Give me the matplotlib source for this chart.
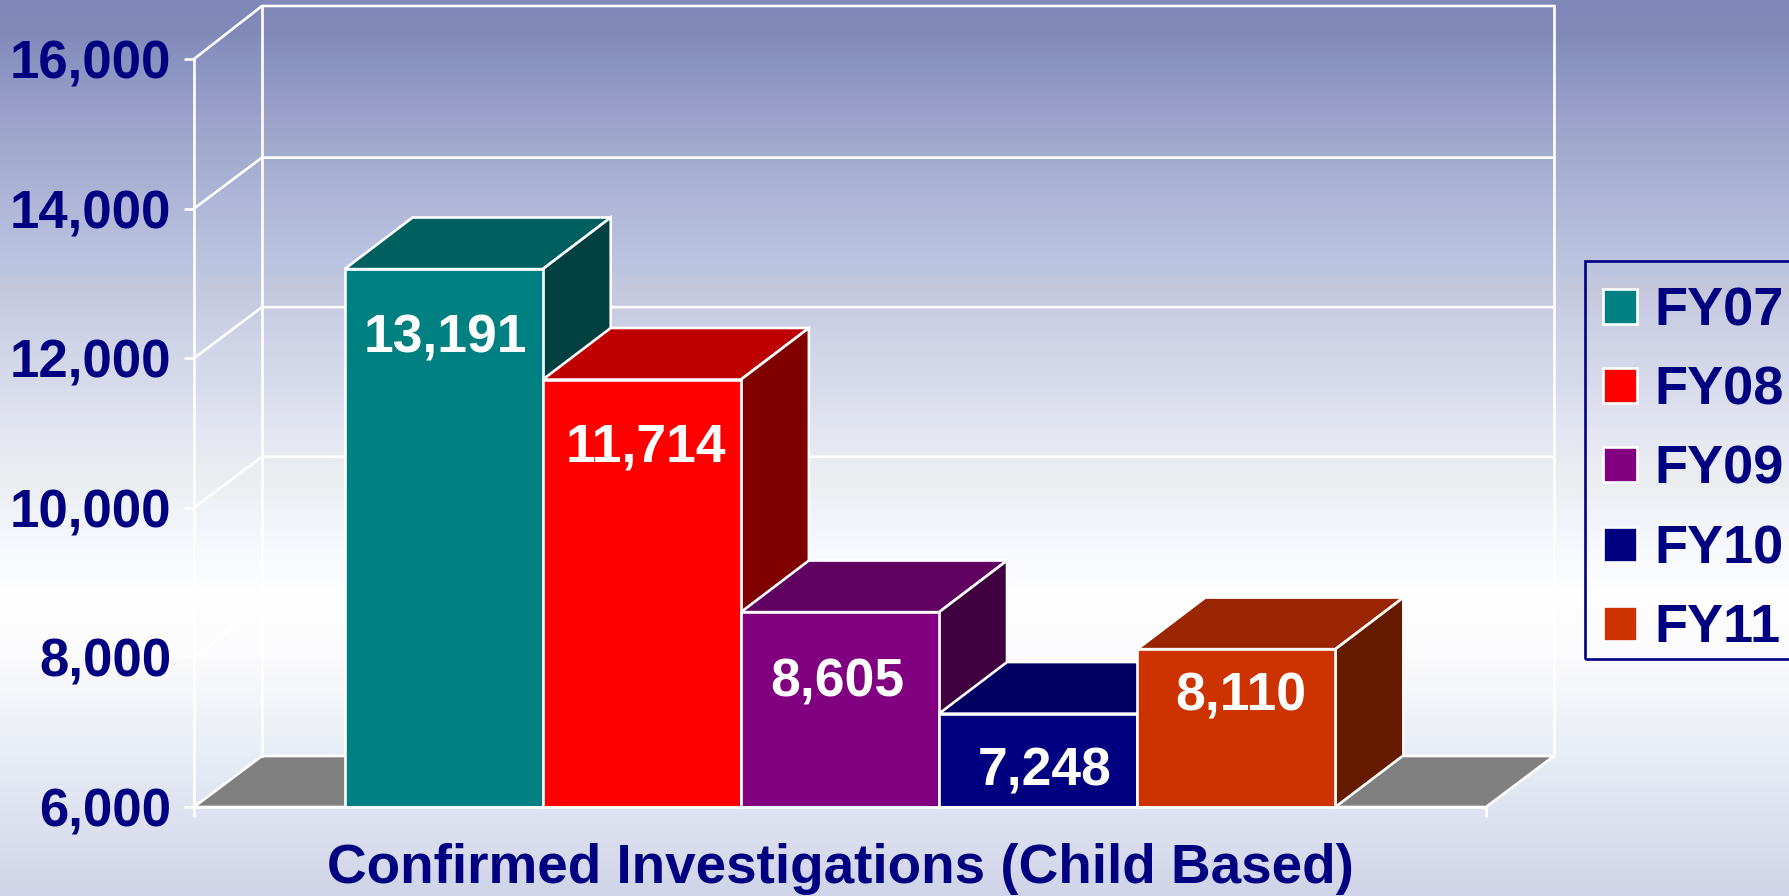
import matplotlib
matplotlib.use("Agg")
import matplotlib.pyplot as plt
import matplotlib.patches as patches
from matplotlib.colors import LinearSegmentedColormap
import numpy as np

plt.rcParams['font.family'] = ['Liberation Sans', 'DejaVu Sans']
plt.rcParams['font.weight'] = 'bold'

years = ['FY07', 'FY08', 'FY09', 'FY10', 'FY11']
counts = [13191, 11714, 8605, 7248, 8110]
y_ticks = [6000, 8000, 10000, 12000, 14000, 16000]
bar_colors = ['#008080', '#FF0000', '#800080', '#000080', '#CC3300']
# how far below the top of each bar the label sits, pixels
label_drop = [69, 68, 70, 58, 47]
label_shift = [2, 4, -3, 7, 4]

NAVY = '#000080'
W, H = 1789, 896
# background stops, 0 = top of picture
bg_stops = [(0.0, '#7F88B8'), (0.037, '#828AB9'), (0.075, '#8C96C3'), (0.104, '#949BC6'),
            (0.126, '#9DA0CB'), (0.16, '#A0AACB'), (0.223, '#AFB6D7'), (0.30, '#BCC6E1'),
            (0.324, '#C6C8DC'), (0.37, '#CDD2E6'), (0.424, '#D7DAEB'), (0.48, '#E4E6F2'),
            (0.535, '#EBEEF0'), (0.59, '#F2F6FC'), (0.665, '#FFFFFF'), (0.73, '#FCFBFD'),
            (0.80, '#EFF3F8'), (0.90, '#E0E4F1'), (1.0, '#D0D4E8')]

fig = plt.figure(figsize=(W / 100, H / 100), dpi=100)

# gradient behind everything
bg = fig.add_axes([0, 0, 1, 1], zorder=0)
cmap = LinearSegmentedColormap.from_list('bg', bg_stops)
bg.imshow(np.linspace(0, 1, 896).reshape(-1, 1), aspect='auto', cmap=cmap, vmin=0, vmax=1)
bg.axis('off')

ax = fig.add_axes([194 / W, (H - 807) / H, 1292 / W, 748 / H], zorder=1)
ax.patch.set_alpha(0)
x_lo, x_hi = -0.76, 5.76
y_lo, y_hi = y_ticks[0], y_ticks[-1]
ax.set_xlim(x_lo, x_hi)
ax.set_ylim(y_lo, y_hi)

wall_dx, wall_dy, wall_top_dy = 0.343, 682, 709
bar_dx, bar_dy = 0.343, 690
lw = 1.9

# floor
ax.add_patch(patches.Polygon(
    [(x_lo, y_lo), (x_lo + wall_dx, y_lo + wall_dy), (x_hi + wall_dx, y_lo + wall_dy), (x_hi, y_lo)],
    facecolor='#808080', edgecolor='white', linewidth=lw, clip_on=False, zorder=1))

# back wall and side wall gridlines
for t in y_ticks:
    if t == y_lo:
        continue
    dy = wall_top_dy if t == y_hi else wall_dy
    ax.plot([x_lo, x_lo + wall_dx, x_hi + wall_dx], [t, t + dy, t + dy],
            color='white', lw=lw, clip_on=False, zorder=1)
for xv in [x_lo + wall_dx, x_hi + wall_dx]:
    ax.plot([xv, xv], [y_lo + wall_dy, y_hi + wall_top_dy], color='white', lw=lw, clip_on=False, zorder=1)

# the bars, left to right so each one covers the side of the one before
for i, (val, col) in enumerate(zip(counts, bar_colors)):
    rgb = np.array(matplotlib.colors.to_rgb(col))
    z = 3 + i
    ax.add_patch(patches.Polygon(
        [(i, val), (i + bar_dx, val + bar_dy), (i + 1 + bar_dx, val + bar_dy), (i + 1, val)],
        facecolor=rgb * 0.75, edgecolor='white', linewidth=lw, clip_on=False, zorder=z))
    ax.add_patch(patches.Polygon(
        [(i + 1, y_lo), (i + 1 + bar_dx, y_lo + bar_dy), (i + 1 + bar_dx, val + bar_dy), (i + 1, val)],
        facecolor=rgb * 0.5, edgecolor='white', linewidth=lw, clip_on=False, zorder=z))
    ax.bar(i, val - y_lo, width=1, bottom=y_lo, align='edge', color=col,
           edgecolor='white', linewidth=lw, zorder=z)
    ax.annotate(f"{val:,}", (i + 0.5, val), xytext=(label_shift[i], -label_drop[i]),
                textcoords='offset pixels', ha='center', va='center',
                color='white', fontsize=38.5, fontweight='bold', zorder=20)

ax.set_yticks(y_ticks)
ax.set_yticklabels([f"{t:,}" for t in y_ticks], fontsize=38, fontweight='bold', color=NAVY)
ax.set_xticks([x_lo, x_hi])
ax.set_xticklabels(['', ''])
ax.tick_params(axis='both', color='white', width=lw, length=7.5)
ax.tick_params(axis='y', pad=9)
for side in ['top', 'right']:
    ax.spines[side].set_visible(False)
for side in ['left', 'bottom']:
    ax.spines[side].set_color('white')
    ax.spines[side].set_linewidth(lw)
    ax.spines[side].set_zorder(30 if side == 'bottom' else 2)

ax.set_xlabel('Confirmed Investigations (Child Based)', fontsize=39.5, fontweight='bold',
              color=NAVY, labelpad=15)

# legend box runs off the right edge of the picture
fig.add_artist(patches.Rectangle((1585 / W, (H - 659) / H), 260 / W, 398 / H,
                                 transform=fig.transFigure, facecolor='none',
                                 edgecolor=NAVY, linewidth=1.9, zorder=4))

handles = [patches.Patch(facecolor=c, edgecolor='white', linewidth=lw, label=y)
           for y, c in zip(years, bar_colors)]
leg = fig.legend(handles=handles, loc='upper left', bbox_to_anchor=(1585 / W, (H - 268) / H),
                 bbox_transform=fig.transFigure, borderaxespad=0, frameon=False,
                 fontsize=39, labelcolor=NAVY,
                 handlelength=0.62, handleheight=0.62, handletextpad=0.32,
                 labelspacing=0.54, borderpad=0.34)
leg.set_zorder(5)

plt.savefig('out.png', dpi=100)
